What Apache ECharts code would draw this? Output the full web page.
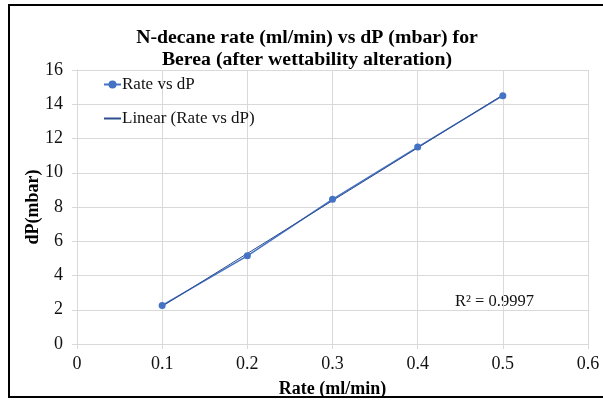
<!DOCTYPE html>
<html><head><meta charset="utf-8">
<script src="https://cdn.jsdelivr.net/npm/echarts@6/dist/echarts.min.js"></script>
<style>html,body{margin:0;padding:0;background:#fff}#c{width:603px;height:400px}</style>
</head><body><div id="c"></div>
<script>
const rates = [0.1, 0.2, 0.3, 0.4, 0.5];
const dP = [2.25, 5.15, 8.45, 11.5, 14.5];
const titleLines = ['N-decane rate (ml/min) vs dP (mbar) for', 'Berea (after wettability alteration)'];
const seriesName = 'Rate vs dP';
const trendName = 'Linear (Rate vs dP)';
const r2Text = 'R² = 0.9997';

// least-squares linear trendline computed from the data
const n = rates.length;
const mx = rates.reduce((a,b)=>a+b,0)/n;
const my = dP.reduce((a,b)=>a+b,0)/n;
let sxy=0, sxx=0;
for (let i=0;i<n;i++){ sxy+=(rates[i]-mx)*(dP[i]-my); sxx+=(rates[i]-mx)**2; }
const slope = sxy/sxx, icpt = my - slope*mx;
const xMinD = Math.min(...rates), xMaxD = Math.max(...rates);
const trend = [[xMinD, icpt+slope*xMinD],[xMaxD, icpt+slope*xMaxD]];

const font = '"Liberation Serif", "Times New Roman", serif';
const chart = echarts.init(document.getElementById('c'));
chart.setOption({
  animation:false,
  backgroundColor:'#fff',
  textStyle:{fontFamily:font},
  title:{text:titleLines.join('\n'), left:302, textAlign:'center', top:22,
    textStyle:{fontFamily:font, fontSize:19.8, fontWeight:'bold', color:'#000', lineHeight:22}},
  grid:{left:77, right:15, top:70, bottom:56, containLabel:false, outerBoundsMode:'none'},
  legend:{orient:'vertical', left:98, top:71, itemGap:17, itemWidth:17, itemHeight:10,
    textStyle:{fontFamily:font, fontSize:17, color:'#111', padding:[0,0,0,-4]},
    data:[{name:seriesName},{name:trendName, itemStyle:{opacity:0}}]},
  xAxis:{type:'value', min:0, max:0.6, interval:0.1,
    name:'Rate (ml/min)', nameLocation:'middle', nameGap:36,
    nameTextStyle:{fontFamily:font, fontSize:18, fontWeight:'bold', color:'#000'},
    axisLine:{show:true, lineStyle:{color:'#d9d9d9'}},
    axisTick:{show:true, length:5, lineStyle:{color:'#d9d9d9'}},
    axisLabel:{fontFamily:font, fontSize:18, color:'#111', margin:11, formatter:v=>String(+v.toFixed(1))},
    splitLine:{show:true, lineStyle:{color:'#d9d9d9'}}},
  yAxis:{type:'value', min:0, max:16, interval:2,
    name:'dP(mbar)', nameLocation:'middle', nameGap:35, nameRotate:90, nameMoveOverlap:false,
    nameTextStyle:{fontFamily:font, fontSize:18, fontWeight:'bold', color:'#000'},
    axisLine:{show:true, lineStyle:{color:'#d9d9d9'}},
    axisTick:{show:true, length:5, lineStyle:{color:'#d9d9d9'}},
    axisLabel:{fontFamily:font, fontSize:18, color:'#111', margin:14},
    splitLine:{show:true, lineStyle:{color:'#d9d9d9'}}},
  series:[
    {name:seriesName, type:'line', data:rates.map((x,i)=>[x,dP[i]]),
      symbol:'circle', symbolSize:7, color:'#4472C4',
      lineStyle:{width:1.5, color:'#4472C4'}, itemStyle:{color:'#4472C4'}},
    {name:trendName, type:'line', data:trend, symbol:'none', color:'#2F4F8F',
      lineStyle:{width:1, color:'#2F4F8F'}}
  ],
  graphic:[
    {type:'rect', shape:{x:9, y:5, width:610, height:392}, style:{fill:'none', stroke:'#000', lineWidth:2}, silent:true},
    {type:'text', left:455, top:293, style:{text:r2Text, font:'16.5px "Liberation Serif", serif', fill:'#111'}}
  ]
});
</script></body></html>
